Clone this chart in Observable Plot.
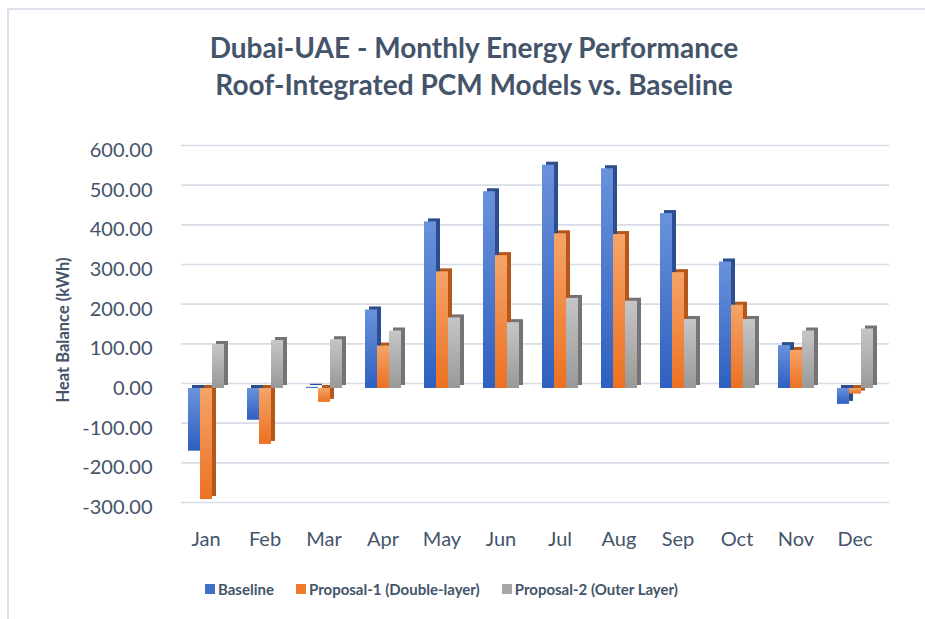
<!DOCTYPE html>
<html>
<head>
<meta charset="utf-8">
<script src="https://cdn.jsdelivr.net/npm/d3@7"></script>
<script src="https://cdn.jsdelivr.net/npm/@observablehq/plot@0.6"></script>
<style>
  html, body { margin: 0; padding: 0; background: #fff; }
  #wrap { position: relative; width: 925px; height: 619px; overflow: hidden; font-family: Lato, "Open Sans", sans-serif; }
  #frame { position: absolute; left: 7px; top: 8px; width: 940px; height: 640px; border: 2px solid #dde2ea; box-sizing: border-box; }
  #title { position: absolute; left: 0; width: 948px; top: 29px; text-align: center; color: #44546a; font-weight: bold; font-size: 28px; line-height: 37px; }
  #ylabel { position: absolute; left: 63px; top: 330px; transform: translate(-50%, -50%) rotate(-90deg); white-space: nowrap; color: #44546a; font-weight: bold; font-size: 16.5px; }
  #chart { position: absolute; left: 0; top: 110px; }
  #legend { position: absolute; top: 580px; left: 205px; display: flex; gap: 22px; color: #44546a; font-weight: bold; font-size: 15px; }
  #legend span.item { display: flex; align-items: center; gap: 3px; }
  #legend i { display: inline-block; width: 10px; height: 10px; }
</style>
</head>
<body>
<div id="wrap">
  <div id="frame"></div>
  <div id="title">Dubai-UAE - Monthly Energy Performance<br>Roof-Integrated PCM Models vs. Baseline</div>
  <div id="ylabel">Heat Balance (kWh)</div>
  <div id="chart"></div>
  <div id="legend"></div>
</div>
<script>
const months = ["Jan","Feb","Mar","Apr","May","Jun","Jul","Aug","Sep","Oct","Nov","Dec"];
const seriesNames = ["Baseline", "Proposal-1 (Double-layer)", "Proposal-2 (Outer Layer)"];
const baseline  = [-158, -80, 3, 198, 420, 496, 563, 554, 441, 319, 108, -40];
const proposal1 = [-280, -141, -35, 107, 294, 335, 390, 388, 292, 210, 96, -14];
const proposal2 = [111, 121, 123, 145, 178, 166, 227, 220, 174, 174, 145, 150];
const yTicks = [-300, -200, -100, 0, 100, 200, 300, 400, 500, 600];

const frontFills = ["url(#gB)", "url(#gO)", "url(#gG)"];
const sideFills = ["#2c4d8e", "#b5561a", "#747474"];
const legendColors = ["#3f6fc8", "#ee7a2c", "#a6a6a6"];

const seriesValues = [baseline, proposal1, proposal2];
const rows = [];
seriesNames.forEach((s, i) => months.forEach((m, j) => rows.push({month: m, series: s, value: seriesValues[i][j]})));

const barMarks = [];
seriesNames.forEach((s, i) => {
  const d = rows.filter(r => r.series === s);
  barMarks.push(Plot.barY(d, {fx: "month", x: "series", y: "value", fill: sideFills[i], dx: 4, dy: -3}));
  barMarks.push(Plot.barY(d, {fx: "month", x: "series", y: "value", fill: frontFills[i]}));
});

const svg = Plot.plot({
  width: 925,
  height: 440,
  marginTop: 40,
  marginBottom: 43,
  marginLeft: 176,
  marginRight: 41,
  style: {fontFamily: "Lato, 'Open Sans', sans-serif", fontSize: "20px", color: "#44546a", background: "transparent"},
  fx: {domain: months, padding: 0, label: null, tickSize: 0, tickPadding: 24},
  x: {domain: seriesNames, axis: null, paddingInner: 0, paddingOuter: 0.77},
  y: {domain: [-300, 600], ticks: yTicks, tickFormat: d => d.toFixed(2), tickSize: 0, tickPadding: 24, label: null},
  marks: [
    Plot.ruleY(yTicks, {stroke: "#d7dce7", strokeWidth: 1.6, dx: 5, dy: -5}),
    ...barMarks
  ]
});

const ns = "http://www.w3.org/2000/svg";
const defs = document.createElementNS(ns, "defs");
defs.innerHTML = `
  <linearGradient id="gB" x1="0" y1="0" x2="0" y2="1"><stop offset="0" stop-color="#6a92dc"/><stop offset="1" stop-color="#2e60c0"/></linearGradient>
  <linearGradient id="gO" x1="0" y1="0" x2="0" y2="1"><stop offset="0" stop-color="#f5a468"/><stop offset="1" stop-color="#ec7122"/></linearGradient>
  <linearGradient id="gG" x1="0" y1="0" x2="0" y2="1"><stop offset="0" stop-color="#c6c6c6"/><stop offset="1" stop-color="#999999"/></linearGradient>`;
svg.insertBefore(defs, svg.firstChild);
document.getElementById("chart").appendChild(svg);

const legend = document.getElementById("legend");
seriesNames.forEach((s, i) => {
  const item = document.createElement("span");
  item.className = "item";
  item.innerHTML = `<i style="background:${legendColors[i]}"></i>${s}`;
  legend.appendChild(item);
});
</script>
</body>
</html>
